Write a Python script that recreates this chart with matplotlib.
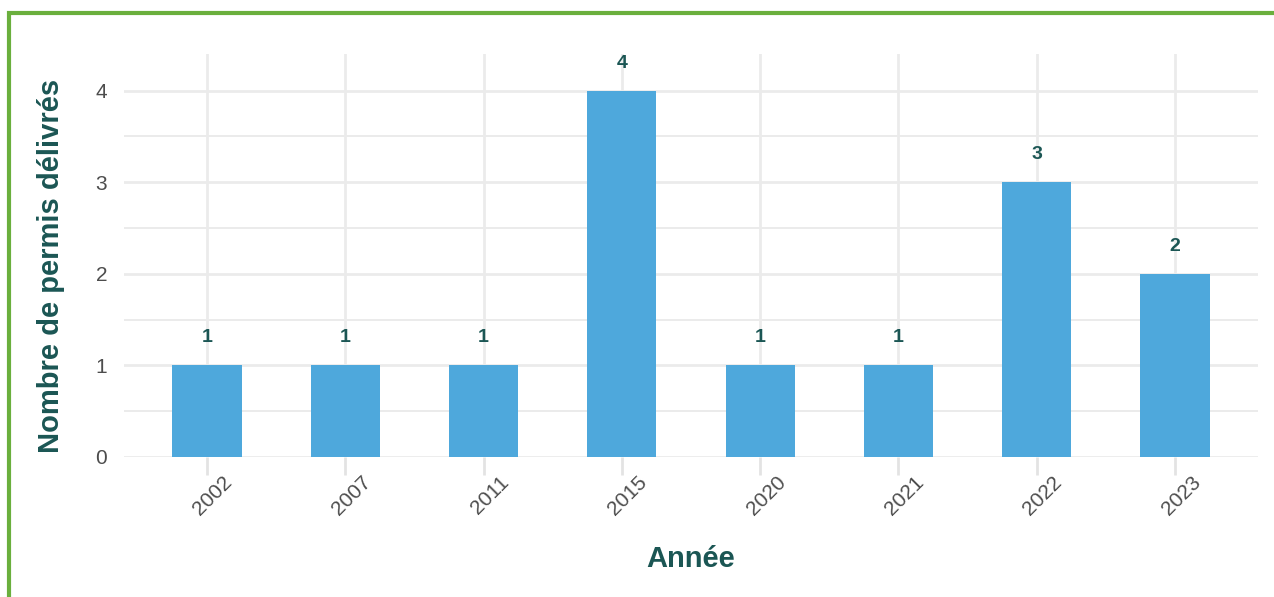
import matplotlib
matplotlib.use("Agg")
import matplotlib.pyplot as plt
from matplotlib.patches import Rectangle
from matplotlib.transforms import ScaledTranslation

annees = ["2002", "2007", "2011", "2015", "2020", "2021", "2022", "2023"]
permis = [1, 1, 1, 4, 1, 1, 3, 2]

bleu = "#4EA8DC"
teal = "#1B5654"
gris = "#EBEBEB"

plt.rcParams["font.family"] = ["Liberation Sans", "DejaVu Sans"]

fig = plt.figure(figsize=(12.74, 5.97), dpi=100)
ax = fig.add_axes([124 / 1274, 1 - 457 / 597, (1258 - 124) / 1274, (457 - 54) / 597])

x = list(range(1, len(annees) + 1))
ax.bar(x, permis, width=0.5, color=bleu, zorder=3)

for xi, v in zip(x, permis):
    ax.text(xi, v + 0.3, str(v), ha="center", va="center",
            fontsize=14, fontweight="bold", color=teal, zorder=4)

ax.set_xlim(0.4, len(annees) + 0.6)
ax.set_ylim(0, 4.4)
ax.set_xticks(x)
ax.set_xticklabels(annees, rotation=45, ha="center", va="top")
ax.set_yticks([0, 1, 2, 3, 4])
ax.set_yticks([0.5, 1.5, 2.5, 3.5], minor=True)

ax.grid(axis="y", which="major", color=gris, linewidth=2, zorder=0)
ax.grid(axis="y", which="minor", color=gris, linewidth=1.4, zorder=0)
ax.grid(axis="x", which="major", color=gris, linewidth=2, zorder=0)

for s in ax.spines.values():
    s.set_visible(False)

ax.tick_params(axis="x", which="major", length=13, width=2, color="#E3E3E3",
               labelsize=15, labelcolor="#4D4D4D", pad=1)
ax.tick_params(axis="y", which="both", length=0, labelsize=15,
               labelcolor="#4D4D4D", pad=12)
ax.tick_params(axis="x", which="minor", length=0)

# petit décalage des années vers la droite
decal = ScaledTranslation(6 / 100, 4 / 100, fig.dpi_scale_trans)
for lab in ax.get_xticklabels():
    lab.set_transform(lab.get_transform() + decal)

ax.set_xlabel("Année", fontsize=21, fontweight="bold", color=teal, labelpad=19)
ax.set_ylabel("Nombre de permis délivrés", fontsize=21, fontweight="bold",
              color=teal, labelpad=22)
ax.yaxis.label.set_y(0.475)

# cadre vert (haut et gauche)
fig.patches.append(Rectangle((8.5 / 1274, -0.05), 1.2, 1 - 12.5 / 597 + 0.05,
                             transform=fig.transFigure, fill=False,
                             edgecolor="#6AAF3D", linewidth=3))

fig.savefig("out.png", dpi=100)
